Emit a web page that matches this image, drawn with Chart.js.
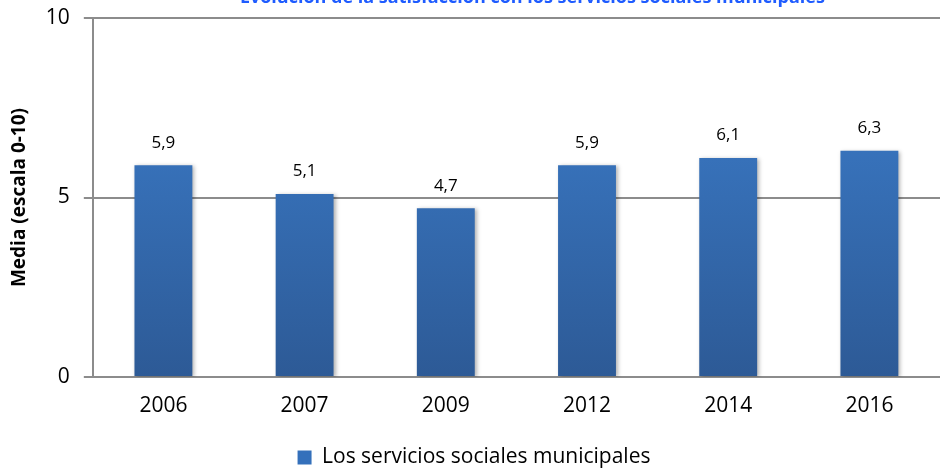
<!DOCTYPE html>
<html>
<head>
<meta charset="utf-8">
<script src="https://cdn.jsdelivr.net/npm/chart.js@4.4.1/dist/chart.umd.min.js"></script>
<style>
    html, body { margin: 0; padding: 0; background: #fff; overflow: hidden; }
    #wrap { position: absolute; left: 0; top: 0; width: 940px; height: 468px; }
</style>
</head>
<body>
<div id="wrap"><canvas id="satisfaction-chart"></canvas></div>
<script>
const years = ['2006', '2007', '2009', '2012', '2014', '2016'];
const means = [5.9, 5.1, 4.7, 5.9, 6.1, 6.3];
const yTicks = [0, 5, 10];
const seriesName = 'Los servicios sociales municipales';
const chartTitle = 'Evolución de la satisfacción con los servicios sociales municipales';

const FONT = '"Open Sans", "Noto Sans", sans-serif';

// title sits above the plot, mostly cut off by the top edge
const topTitle = {
    id: 'topTitle',
    afterDraw(chart) {
        const ctx = chart.ctx;
        const area = chart.chartArea;
        ctx.save();
        ctx.font = 'bold 18px ' + FONT;
        ctx.fillStyle = '#1f5cff';
        ctx.textAlign = 'center';
        ctx.textBaseline = 'alphabetic';
        ctx.fillText(chartTitle, (area.left + area.right) / 2 + 16, 3);
        ctx.restore();
    }
};

// value labels above each bar, decimal comma
const barValues = {
    id: 'barValues',
    afterDatasetsDraw(chart) {
        const ctx = chart.ctx;
        const meta = chart.getDatasetMeta(0);
        ctx.save();
        ctx.font = '17px ' + FONT;
        ctx.fillStyle = '#000';
        ctx.textAlign = 'center';
        ctx.textBaseline = 'bottom';
        meta.data.forEach((bar, i) => {
            ctx.fillText(means[i].toFixed(1).replace('.', ','), bar.x, bar.y - 14);
        });
        ctx.restore();
    }
};

// soft drop shadow on the bars
const barShadow = {
    id: 'barShadow',
    beforeDatasetsDraw(chart) {
        const ctx = chart.ctx;
        ctx.save();
        ctx.shadowColor = 'rgba(0, 0, 0, 0.3)';
        ctx.shadowBlur = 4;
        ctx.shadowOffsetX = 2;
        ctx.shadowOffsetY = 1;
    },
    afterDatasetsDraw(chart) {
        chart.ctx.restore();
    }
};

function barGradient(context) {
    const area = context.chart.chartArea;
    if (!area) return '#3470bb';
    const g = context.chart.ctx.createLinearGradient(0, area.top, 0, area.bottom);
    g.addColorStop(0, '#3d80d0');
    g.addColorStop(1, '#2d5a96');
    return g;
}

const ctx = document.getElementById('satisfaction-chart').getContext('2d');
new Chart(ctx, {
    type: 'bar',
    data: {
        labels: years,
        datasets: [{
            label: seriesName,
            data: means,
            backgroundColor: barGradient,
            borderWidth: 0,
            barPercentage: 0.41,
            categoryPercentage: 1
        }]
    },
    options: {
        responsive: true,
        maintainAspectRatio: false,
        animation: false,
        layout: { padding: { left: 8, right: 0, top: 18, bottom: -10 } },
        plugins: {
            title: { display: false },
            legend: {
                position: 'bottom',
                labels: {
                    color: '#000',
                    boxWidth: 14,
                    boxHeight: 14,
                    padding: 1,
                    font: { family: FONT, size: 21 },
                    generateLabels(chart) {
                        return [{
                            text: seriesName,
                            fillStyle: '#3470bb',
                            strokeStyle: '#3470bb',
                            lineWidth: 0,
                            datasetIndex: 0
                        }];
                    }
                }
            },
            tooltip: { enabled: false }
        },
        scales: {
            y: {
                min: 0,
                max: 10,
                afterBuildTicks(axis) {
                    axis.ticks = yTicks.map(v => ({ value: v }));
                },
                afterFit(axis) {
                    // let the top label hang above the plot instead of pushing it down
                    axis.paddingTop = 0;
                },
                ticks: {
                    color: '#000',
                    padding: 14,
                    font: { family: FONT, size: 21 }
                },
                grid: {
                    color: '#8c8c8c',
                    lineWidth: 2,
                    tickLength: 9
                },
                border: { display: true, color: '#8c8c8c', width: 2 },
                title: {
                    display: true,
                    text: 'Media (escala 0-10)',
                    color: '#000',
                    font: { family: FONT, size: 19, weight: 'bold' },
                    padding: { top: 0, bottom: 1 }
                }
            },
            x: {
                grid: { display: false },
                border: { display: false },
                ticks: {
                    color: '#000',
                    padding: 8,
                    font: { family: FONT, size: 21 }
                },
                afterFit(axis) {
                    axis.height = 69;
                }
            }
        }
    },
    plugins: [barShadow, barValues, topTitle]
});
</script>
</body>
</html>
